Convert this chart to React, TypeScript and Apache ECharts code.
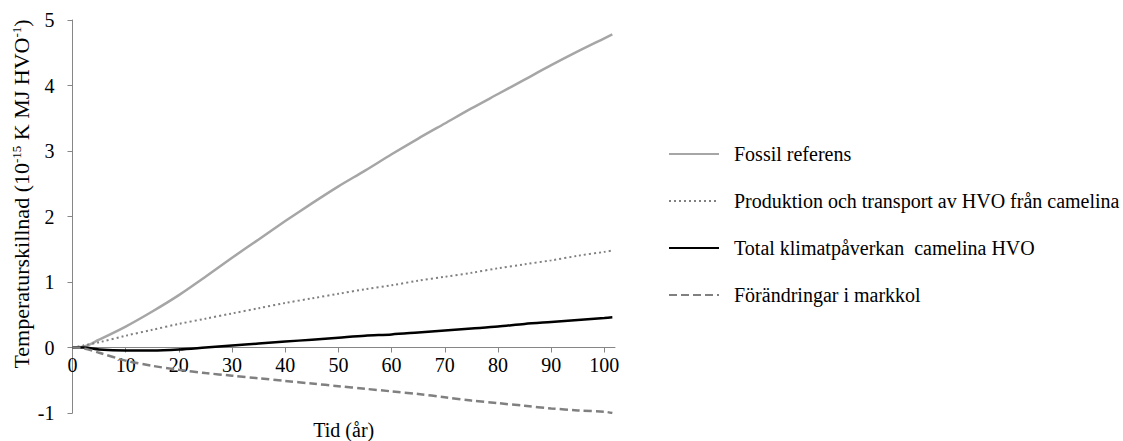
import React, { useEffect, useRef } from "react";
import * as echarts from "echarts";

const years = [0, 2, 5, 10, 15, 20, 25, 30, 35, 40, 45, 50, 55, 60, 65, 70, 75, 80, 85, 90, 95, 100, 101.5];
const fossil = [0, 0.01, 0.12, 0.32, 0.55, 0.8, 1.08, 1.37, 1.65, 1.93, 2.2, 2.46, 2.7, 2.95, 3.19, 3.42, 3.65, 3.87, 4.09, 4.31, 4.52, 4.72, 4.78];
const produktion = [0, 0.03, 0.08, 0.18, 0.27, 0.36, 0.44, 0.52, 0.6, 0.68, 0.75, 0.82, 0.89, 0.95, 1.02, 1.08, 1.14, 1.21, 1.27, 1.33, 1.4, 1.46, 1.48];
const total = [0, 0, -0.03, -0.045, -0.045, -0.03, 0, 0.03, 0.06, 0.09, 0.12, 0.15, 0.18, 0.2, 0.23, 0.26, 0.29, 0.32, 0.36, 0.39, 0.42, 0.45, 0.46];
const markkol = [0, -0.01, -0.08, -0.2, -0.28, -0.34, -0.39, -0.43, -0.47, -0.51, -0.55, -0.59, -0.63, -0.67, -0.71, -0.76, -0.81, -0.85, -0.89, -0.93, -0.96, -0.98, -1.0];
const seriesNames = [
  "Fossil referens",
  "Produktion och transport av HVO från camelina",
  "Total klimatpåverkan  camelina HVO",
  "Förändringar i markkol",
];
const xTicks = [0, 10, 20, 30, 40, 50, 60, 70, 80, 90, 100];

const FONT = "'Liberation Serif', 'Times New Roman', serif";

export default function App() {
  const ref = useRef<HTMLDivElement>(null);
  useEffect(() => {
    if (!ref.current) return;
    const chart = echarts.init(ref.current, undefined, { renderer: "svg" });
    const pair = (ys: number[]) => years.map((x, i) => [x, ys[i]]);
    const mk = (name: string, ys: number[], color: string, width: number, type: any) => ({
      name,
      type: "line",
      data: pair(ys),
      symbol: "none",
      smooth: 0.3,
      lineStyle: { color, width, type },
      itemStyle: { color },
    });
    chart.setOption({
      animation: false,
      backgroundColor: "#ffffff",
      textStyle: { fontFamily: FONT },
      grid: { left: 72.5, top: 20, width: 542.5, height: 393, containLabel: false, outerBoundsMode: "none" },
      xAxis: {
        type: "value",
        min: 0,
        max: 102,
        interval: 10,
        position: "bottom",
        offset: -65.5,
        name: "Tid (år)",
        nameLocation: "middle",
        nameGap: 72,
        nameTextStyle: { fontFamily: FONT, fontSize: 20, color: "#000" },
        axisLine: { onZero: false, lineStyle: { color: "#868686", width: 1 } },
        axisTick: { show: true, length: 5, lineStyle: { color: "#868686" }, customValues: xTicks },
        axisLabel: {
          fontFamily: FONT,
          fontSize: 20,
          color: "#000",
          margin: 7,
          customValues: xTicks,
        },
        splitLine: { show: false },
      },
      yAxis: {
        type: "value",
        min: -1,
        max: 5,
        interval: 1,
        axisLine: { show: true, onZero: false, lineStyle: { color: "#868686", width: 1 } },
        axisTick: { show: true, length: 5, lineStyle: { color: "#868686" } },
        axisLabel: { fontFamily: FONT, fontSize: 20, color: "#000", margin: 18 },
        splitLine: { show: false },
      },
      legend: {
        orient: "vertical",
        left: 668,
        top: 144,
        padding: 0,
        itemWidth: 50,
        itemHeight: 20,
        itemGap: 27,
        data: seriesNames,
        itemStyle: { opacity: 0 },
        textStyle: { fontFamily: FONT, fontSize: 20, color: "#000", lineHeight: 20, padding: [0, 0, 0, 10] },
      },
      graphic: [
        {
          type: "text",
          x: 21,
          y: 194,
          rotation: Math.PI / 2,
          style: {
            text: "Temperaturskillnad (10{sup|-15} K MJ HVO{sup|-1})",
            fontFamily: FONT,
            fontSize: 22,
            fill: "#000",
            align: "center",
            verticalAlign: "middle",
            rich: {
              sup: { fontFamily: FONT, fontSize: 13, fill: "#000", verticalAlign: "top", padding: [0, 0, 9, 0] },
            },
          },
        },
      ],
      series: [
        mk(seriesNames[0], fossil, "#a6a6a6", 2.5, "solid"),
        mk(seriesNames[1], produktion, "#808080", 2, [2, 3]),
        mk(seriesNames[2], total, "#000000", 2.5, "solid"),
        mk(seriesNames[3], markkol, "#808080", 2.5, [8, 4]),
      ],
    });
    return () => chart.dispose();
  }, []);
  return <div ref={ref} style={{ position: "fixed", left: 0, top: 0, width: 1123, height: 441 }} />;
}
